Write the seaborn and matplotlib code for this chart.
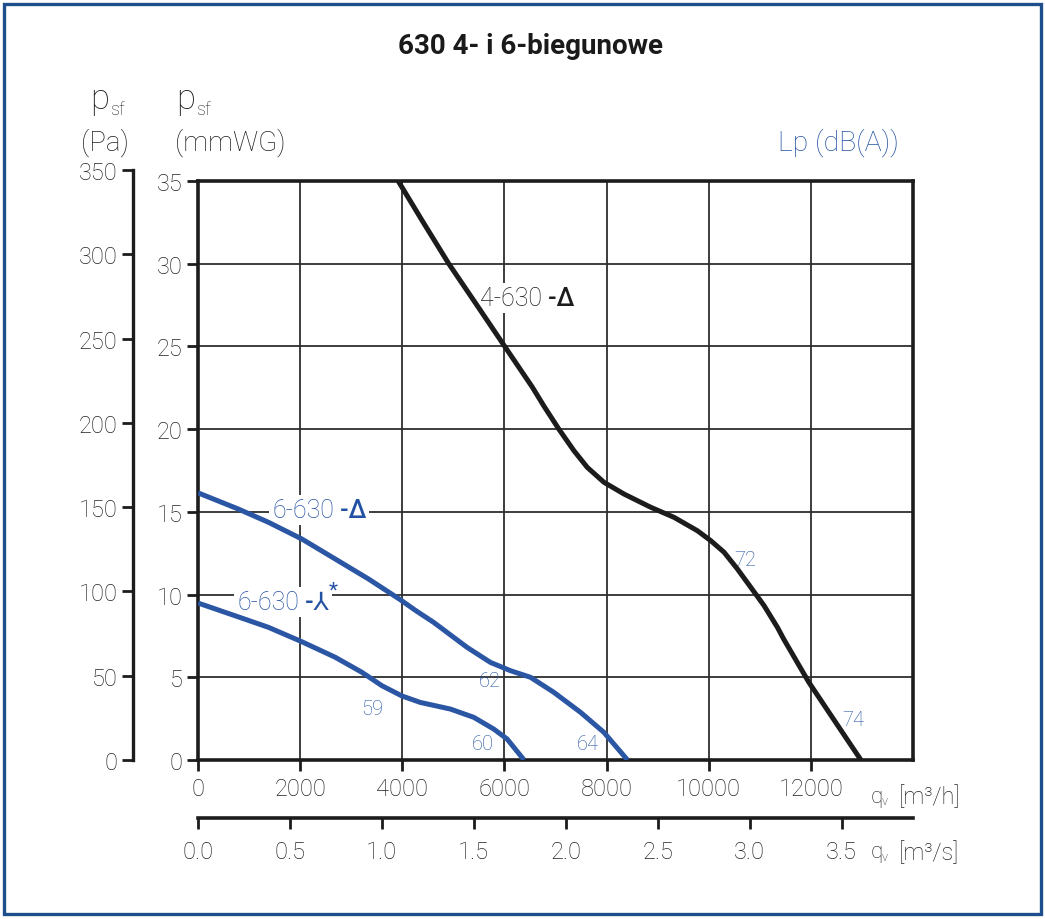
import numpy as np
import pandas as pd
import matplotlib
matplotlib.use("Agg")
import matplotlib.pyplot as plt
import seaborn as sns
from matplotlib import font_manager as fm
from matplotlib.patches import Rectangle

# ---------------- data ----------------
# 4-630 -Δ  (qv in m3/h, psf in mmWG)
qv_4_630_d = [3920, 4410, 4910, 5460, 6006, 6544, 6772, 7066, 7360, 7622, 7948, 8340,
              8863, 9320, 9778, 10039, 10300, 10561, 10823, 11084, 11345, 11470, 11960,
              12480, 12980]
p_4_630_d = [35.0, 32.5, 30.0, 27.5, 25.0, 22.55, 21.4, 20.0, 18.7, 17.69, 16.79, 16.08,
             15.28, 14.67, 13.86, 13.26, 12.56, 11.55, 10.44, 9.33, 8.02, 7.3, 4.7,
             2.3, 0.0]

# 6-630 -Δ
qv_6_630_d = [0, 790, 1379, 2033, 2687, 3340, 3961, 4255, 4614, 5268, 5726, 6118,
              6510, 6968, 7491, 7948, 8410]
p_6_630_d = [16.15, 15.17, 14.37, 13.36, 12.15, 10.94, 9.69, 9.05, 8.32, 6.81, 5.9, 5.40,
             5.0, 4.09, 2.88, 1.67, 0.0]

# 6-630 -Y*
qv_6_630_y = [0, 725, 1379, 2033, 2687, 3210, 3602, 3994, 4353, 4941, 5399, 5791,
              6052, 6385]
p_6_630_y = [9.49, 8.72, 8.02, 7.15, 6.21, 5.30, 4.49, 3.87, 3.48, 3.08, 2.58, 1.87,
             1.27, 0.0]

curve_names = ["4-630 -Δ", "6-630 -Δ", "6-630 -⅄"]

# Lp (dB(A)) annotations: value, qv, psf
lp_values = ["72", "74", "62", "59", "60", "64"]
lp_qv = [10720, 12825, 5706, 3412, 5569, 7628]
lp_p = [12.15, 2.42, 4.78, 3.14, 0.97, 0.97]

x_ticks_mh = [0, 2000, 4000, 6000, 8000, 10000, 12000]
y_ticks_mmwg = [0, 5, 10, 15, 20, 25, 30, 35]
y_ticks_pa = [0, 50, 100, 150, 200, 250, 300, 350]
x_ticks_ms = [0.0, 0.5, 1.0, 1.5, 2.0, 2.5, 3.0, 3.5]

# ---------------- fonts ----------------
def pick(cands):
    for c in cands:
        try:
            fm.findfont(fm.FontProperties(family=c), fallback_to_default=False)
            return c
        except Exception:
            pass
    return "DejaVu Sans"

FONT = pick(["Roboto", "Liberation Sans", "DejaVu Sans"])

sns.set_theme(style="ticks")
plt.rcParams["font.family"] = [FONT, "DejaVu Sans"]
plt.rcParams["font.weight"] = "light"
plt.rcParams["axes.unicode_minus"] = False

W, H = 1045, 920
BLUE = "#2A56A4"
TBLUE = "#2452A3"
BLACK = "#1c1c1c"
GRID = "#2e2e2e"
TXT = "#222222"

fig = plt.figure(figsize=(W / 100, H / 100), dpi=100)
fig.patch.set_facecolor("white")

def fx(px):
    return px / W

def fy(py):
    return 1 - py / H

# main axes (mmWG vs m3/h)
L, R, T, B = 198, 913, 182, 761
ax = fig.add_axes([fx(L), fy(B), (R - L) / W, (B - T) / H])

df = pd.concat([
    pd.DataFrame({"curve": curve_names[0], "qv": qv_4_630_d, "p": p_4_630_d}),
    pd.DataFrame({"curve": curve_names[1], "qv": qv_6_630_d, "p": p_6_630_d}),
    pd.DataFrame({"curve": curve_names[2], "qv": qv_6_630_y, "p": p_6_630_y}),
])
pal = {curve_names[0]: BLACK, curve_names[1]: BLUE, curve_names[2]: BLUE}
sns.lineplot(data=df, x="qv", y="p", hue="curve", palette=pal, estimator=None,
             sort=False, legend=False, lw=3.6, ax=ax, zorder=3)
for ln in ax.lines:
    ln.set_solid_capstyle("butt")
    ln.set_solid_joinstyle("round")

ax.set_xlim(0, 14000)
ax.set_ylim(0, 35)
ax.set_xticks(x_ticks_mh)
ax.set_yticks(y_ticks_mmwg)
ax.set_xticklabels([str(v) for v in x_ticks_mh])
ax.set_yticklabels([str(v) for v in y_ticks_mmwg])
ax.set_xlabel("")
ax.set_ylabel("")
ax.grid(True, color=GRID, lw=1.3, zorder=1)
ax.set_axisbelow(True)
for s in ax.spines.values():
    s.set_visible(True)
    s.set_color(BLACK)
    s.set_linewidth(2.6)
ax.tick_params(axis="both", which="major", direction="out", length=8, width=2.0,
               color=BLACK, labelsize=17, labelcolor=TXT, pad=3,
               bottom=True, left=True, top=False, right=False)
ax.tick_params(axis="x", pad=4)

# Pa axis
axpa = fig.add_axes([fx(133), fy(B), 0.0001, (B - 171) / H])
axpa.set_ylim(0, 350)
axpa.set_yticks(y_ticks_pa)
axpa.set_yticklabels([str(v) for v in y_ticks_pa])
axpa.set_xticks([])
axpa.patch.set_visible(False)
for k, s in axpa.spines.items():
    s.set_visible(k == "left")
axpa.spines["left"].set_linewidth(2.4)
axpa.spines["left"].set_color(BLACK)
axpa.tick_params(axis="y", direction="out", length=8, width=2.0, color=BLACK,
                 labelsize=17, labelcolor=TXT, pad=3, left=True)

# m3/s axis
axs = fig.add_axes([fx(L), fy(819), (R - L) / W, 0.0001])
axs.set_xlim(0, 14000 / 3600)
axs.set_xticks(x_ticks_ms)
axs.set_xticklabels([f"{v:.1f}" for v in x_ticks_ms])
axs.set_yticks([])
axs.patch.set_visible(False)
for k, s in axs.spines.items():
    s.set_visible(k == "bottom")
axs.spines["bottom"].set_linewidth(2.6)
axs.spines["bottom"].set_color(BLACK)
axs.tick_params(axis="x", direction="out", length=8, width=2.0, color=BLACK,
                labelsize=17, labelcolor=TXT, pad=8, bottom=True)

# ---------------- texts ----------------
fig.text(fx(530), fy(46), "630 4- i 6-biegunowe", ha="center", va="center",
         fontsize=20, fontweight="bold", color="#1a1a1a")

# psf labels
for xp in (90, 176):
    fig.text(fx(xp), fy(109), "p", ha="left", va="baseline", fontsize=25, color=TXT)
    fig.text(fx(xp + 20), fy(115), "sf", ha="left", va="baseline", fontsize=13, color=TXT)
fig.text(fx(129), fy(143), "(Pa)", ha="right", va="center", fontsize=20, color=TXT)
fig.text(fx(175), fy(143), "(mmWG)", ha="left", va="center", fontsize=20, color=TXT)
fig.text(fx(899), fy(143), "Lp (dB(A))", ha="right", va="center", fontsize=20.5,
         color=TBLUE)

# qv axis labels
for yp, unit in ((797, "[m³/h]"), (853, "[m³/s]")):
    fig.text(fx(871), fy(yp), "q", ha="left", va="center", fontsize=16, color=TXT)
    fig.text(fx(882), fy(yp + 5), "v", ha="left", va="center", fontsize=9, color=TXT)
    fig.text(fx(899), fy(yp), unit, ha="left", va="center", fontsize=17, color=TXT)

# curve labels (name in light weight, switch symbol heavier)
bb = dict(boxstyle="square,pad=0.12", fc="white", ec="none")

def curve_label(xq, yp, name, sym, color, star=False):
    t = ax.text(xq, yp, name, ha="left", va="center", fontsize=18, color=color,
                bbox=bb, zorder=2.5)
    s = ax.annotate(sym, xy=(1, 0.5), xycoords=t, ha="left", va="center",
                    fontsize=18, fontweight="medium", color=color, bbox=bb, zorder=2,
                    annotation_clip=False)
    if star:
        ax.annotate("*", xy=(1, 1.0), xycoords=s, ha="left", va="center",
                    fontsize=15, fontweight="normal", color=color, zorder=2,
                    annotation_clip=False)

curve_label(5530, 27.9, "4-630", " -Δ", BLACK)
curve_label(1450, 15.1, "6-630", " -Δ", TBLUE)
curve_label(765, 9.55, "6-630", " -⅄", TBLUE, star=True)

for v, xq, yp in zip(lp_values, lp_qv, lp_p):
    ax.text(xq, yp, v, ha="center", va="center", fontsize=14.5, fontweight="light",
            color=TBLUE, zorder=4)

# outer frame
fig.add_artist(Rectangle((fx(4), fy(915)), (1041 - 4) / W, (915 - 5) / H,
                         transform=fig.transFigure, fill=False, ec="#1F4E8C", lw=2.4))

fig.savefig("out.png", dpi=100)
